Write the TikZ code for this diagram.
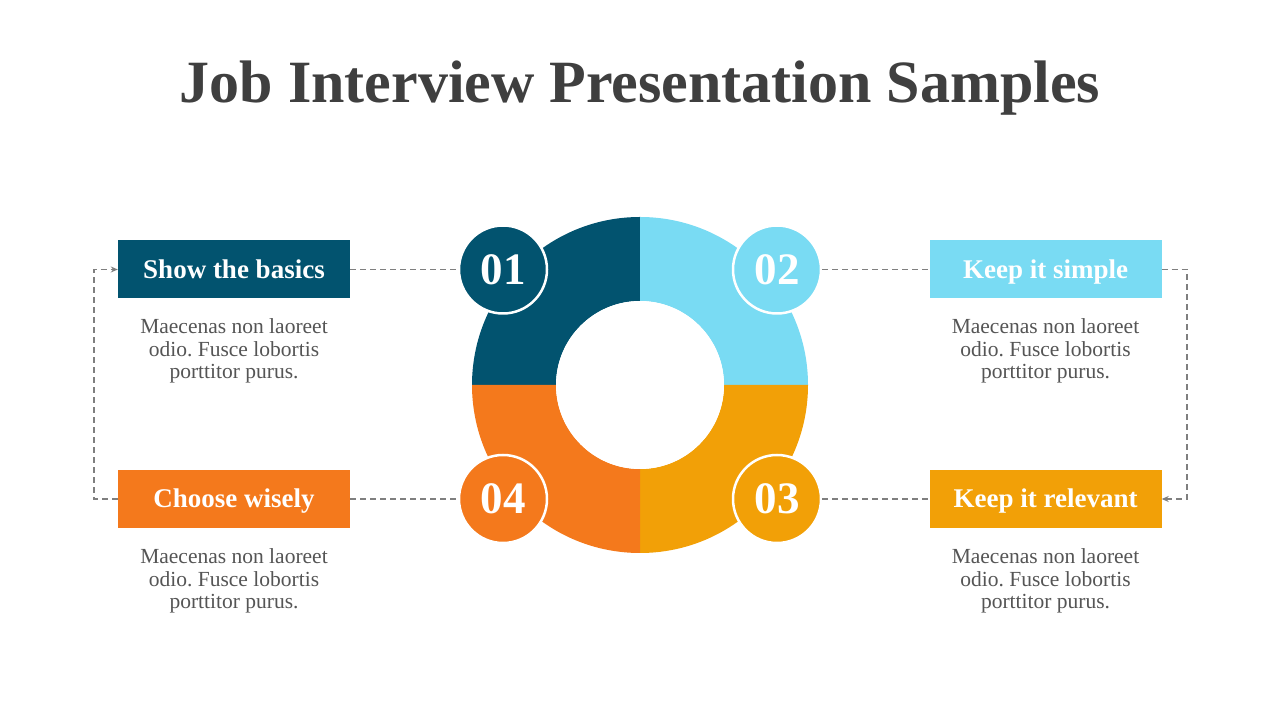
\documentclass[tikz,border=0pt]{standalone}
\usepackage{fontspec}
\setmainfont{Liberation Serif}
\frenchspacing
\usetikzlibrary{arrows.meta}
\definecolor{cA}{HTML}{02536F}
\definecolor{cB}{HTML}{79DBF3}
\definecolor{cC}{HTML}{F2A007}
\definecolor{cD}{HTML}{F4791C}
\definecolor{titlec}{HTML}{3F3F3F}
\definecolor{bodyc}{HTML}{555555}
\definecolor{dashc}{HTML}{7F7F7F}
\tikzset{
  numcirc/.style={circle, draw=white, line width=2.5pt, minimum size=88pt, inner sep=0pt, text=white, text height=30pt, text depth=0pt, font=\fontsize{45}{45}\selectfont\bfseries},
  labelbox/.style={rectangle, minimum width=232pt, minimum height=58pt, inner sep=0pt, text=white, text height=18pt, text depth=0pt, font=\fontsize{27}{27}\selectfont\bfseries},
  bodytext/.style={align=center, text=bodyc, font=\fontsize{21.5}{22.5}\selectfont},
  conn/.style={draw=dashc, line width=1.6pt, dash pattern=on 6pt off 4pt},
  connarrow/.style={conn, -{Stealth[length=7pt,width=6pt]}}
}
\begin{document}
\begin{tikzpicture}[x=1pt,y=1pt]
\useasboundingbox (0,0) rectangle (1280,720);
\fill[white] (0,0) rectangle (1280,720);
\node[text=titlec, font=\fontsize{60}{60}\selectfont\bfseries] (title) at (640,632) {Job Interview Presentation Samples};
% ring
\fill[cA] (640,335) -- (640,503) arc[start angle=90,end angle=180,radius=168] -- (556,335) arc[start angle=180,end angle=90,radius=84] -- cycle;
\fill[cB] (640,335) -- (808,335) arc[start angle=0,end angle=90,radius=168] -- (640,419) arc[start angle=90,end angle=0,radius=84] -- cycle;
\fill[cC] (640,335) -- (640,167) arc[start angle=270,end angle=360,radius=168] -- (724,335) arc[start angle=360,end angle=270,radius=84] -- cycle;
\fill[cD] (640,335) -- (472,335) arc[start angle=180,end angle=270,radius=168] -- (640,251) arc[start angle=270,end angle=180,radius=84] -- cycle;
\fill[white] (640,335) circle[radius=84];
% number circles
\node[numcirc, fill=cA] (n1) at (503,450.5) {01};
\node[numcirc, fill=cB] (n2) at (777,450.5) {02};
\node[numcirc, fill=cC] (n3) at (777,221) {03};
\node[numcirc, fill=cD] (n4) at (503,221) {04};
% boxes
\node[labelbox, fill=cA] (b1) at (234,450.5) {Show the basics};
\node[labelbox, fill=cB] (b2) at (1045.5,450.5) {Keep it simple};
\node[labelbox, fill=cC] (b3) at (1045.5,221) {Keep it relevant};
\node[labelbox, fill=cD] (b4) at (234,221) {Choose wisely};
% body texts
\node[bodytext] (t1) at (234,369) {Maecenas non laoreet\\odio. Fusce lobortis\\porttitor purus.};
\node[bodytext] (t2) at (1045.5,369) {Maecenas non laoreet\\odio. Fusce lobortis\\porttitor purus.};
\node[bodytext] (t3) at (1045.5,139) {Maecenas non laoreet\\odio. Fusce lobortis\\porttitor purus.};
\node[bodytext] (t4) at (234,139) {Maecenas non laoreet\\odio. Fusce lobortis\\porttitor purus.};
% connectors
\draw[conn] (b1.east) -- (n1.west);
\draw[conn] (n2.east) -- (b2.west);
\draw[conn] (n3.east) -- (b3.west);
\draw[conn] (b4.east) -- (n4.west);
\coordinate (l1) at (94,221);
\coordinate (l2) at (94,450.5);
\coordinate (r1) at (1187,450.5);
\coordinate (r2) at (1187,221);
\draw[connarrow] (b4.west) -- (l1) -- (l2) -- (b1.west);
\draw[connarrow] (b2.east) -- (r1) -- (r2) -- (b3.east);
\end{tikzpicture}
\end{document}
